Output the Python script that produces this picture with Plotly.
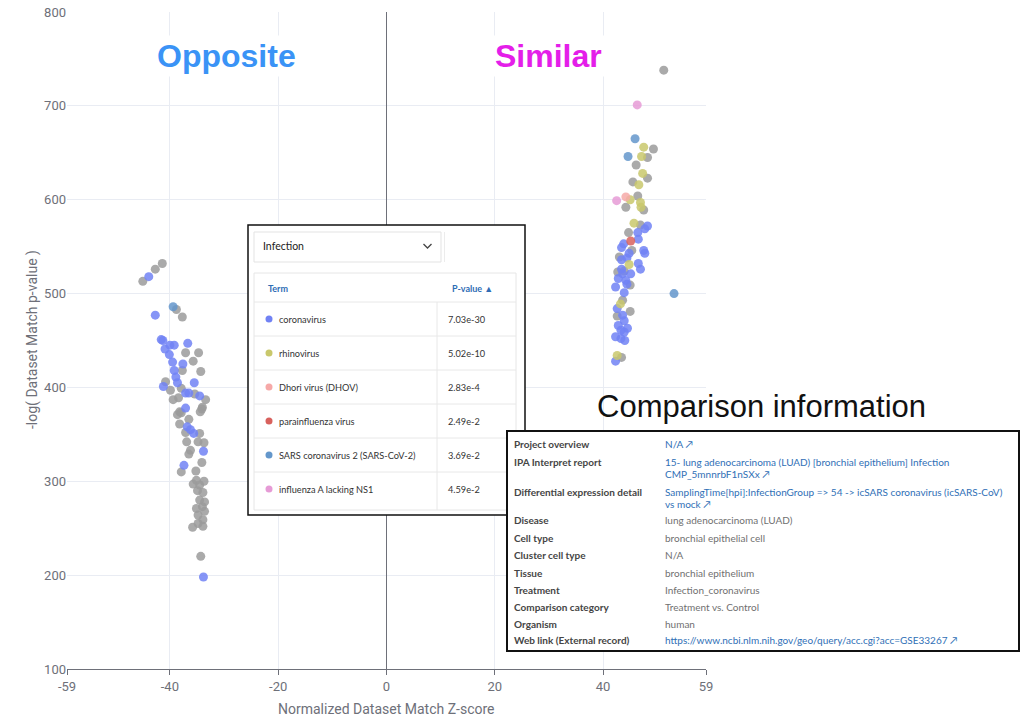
import plotly.graph_objects as go

# ---------------- data ----------------
x_ticks = [-59, -40, -20, 0, 20, 40, 59]
y_ticks = [100, 200, 300, 400, 500, 600, 700, 800]

unannotated_pts = [
    (-45.0, 513), (-42.7, 526), (-41.4, 532), (-38.8, 483), (-37.7, 475), (-37.1, 437), (-34.7, 437),
    (-35.7, 428), (-37.7, 418), (-34.3, 417), (-40.8, 406), (-37.9, 399), (-39.9, 397), (-35.4, 393),
    (-33.4, 387), (-39.4, 387), (-38.4, 389), (-34.0, 379), (-38.2, 374), (-34.1, 377), (-34.4, 374),
    (-38.6, 371), (-37.9, 373), (-36.5, 366), (-38.2, 361), (-37.1, 352), (-34.5, 351), (-36.9, 342),
    (-34.8, 342), (-33.7, 341), (-36.2, 333), (-36.5, 329), (-34.1, 320), (-37.9, 310), (-35.2, 311),
    (-35.1, 301), (-33.7, 300), (-35.7, 297), (-34.5, 296), (-34.9, 290), (-33.9, 288), (-34.5, 280),
    (-33.6, 278), (-34.0, 273), (-35.1, 271), (-33.6, 268), (-34.8, 264), (-33.9, 259), (-34.8, 255),
    (-35.8, 251), (-33.9, 252), (-34.3, 220),
    (51.2, 738), (49.3, 654), (48.2, 645), (46.1, 637), (48.2, 623), (45.5, 619), (46.4, 604),
    (44.2, 592), (47.5, 589), (46.9, 573), (44.7, 565), (45.3, 546), (43.0, 539), (42.7, 523),
    (43.9, 524), (45.0, 509), (43.6, 493), (45.0, 481), (42.6, 476), (43.4, 432),
]
coronavirus_pts = [
    (-43.9, 518), (-42.7, 477), (-41.6, 451), (-41.3, 450), (-40.9, 441), (-40.0, 445), (-39.2, 445),
    (-36.7, 447), (-40.1, 435), (-39.5, 427), (-37.6, 425), (-39.2, 418), (-38.9, 411), (-38.6, 405),
    (-41.2, 401), (-35.5, 405), (-37.1, 394), (-36.5, 394), (-34.5, 391), (-37.1, 378), (-36.8, 358),
    (-36.2, 355), (-35.6, 351), (-33.8, 332), (-37.4, 317), (-33.8, 198),
    (48.2, 572), (47.7, 569), (46.4, 565), (46.5, 558), (43.8, 553), (43.4, 549), (47.5, 546),
    (47.7, 543), (44.8, 543), (44.4, 538), (46.5, 532), (46.9, 526), (43.4, 526), (45.1, 521),
    (43.4, 536), (43.6, 521), (42.8, 516), (44.2, 514), (42.3, 507), (44.4, 510), (43.9, 501),
    (42.6, 484), (43.6, 477), (43.9, 471), (42.8, 466), (44.5, 463), (43.3, 461), (43.9, 459),
    (42.3, 454), (43.3, 452), (44.0, 450), (42.3, 428),
]
rhinovirus_pts = [
    (47.5, 656), (47.1, 646), (47.3, 628), (46.6, 616), (45.0, 600), (46.9, 597), (47.0, 592),
    (45.7, 575), (44.8, 531), (43.2, 489), (42.6, 434),
]
dhori_pts = [(44.2, 603)]
parainfluenza_pts = [(45.1, 556)]
sars2_pts = [(-39.4, 486), (45.9, 665), (44.6, 646), (53.1, 500)]
influenza_pts = [(46.3, 701), (42.5, 599)]

terms = ["coronavirus", "rhinovirus", "Dhori virus (DHOV)", "parainfluenza virus",
         "SARS coronavirus 2 (SARS-CoV-2)", "influenza A lacking NS1"]
pvalues = ["7.03e-30", "5.02e-10", "2.83e-4", "2.49e-2", "3.69e-2", "4.59e-2"]
term_colors = ["#7182f4", "#c9c86c", "#f6a9a8", "#d8615d", "#6497cb", "#e69bd6"]

info_labels = ["Project overview", "IPA Interpret report", "Differential expression detail",
               "Disease", "Cell type", "Cluster cell type", "Tissue", "Treatment",
               "Comparison category", "Organism", "Web link (External record)"]
info_values = [
    ["N/A \u2197"],
    ["15- lung adenocarcinoma (LUAD) [bronchial epithelium] Infection", "CMP_5mnnrbF1nSXx \u2197"],
    ["SamplingTime[hpi]:InfectionGroup => 54 -> icSARS coronavirus (icSARS-CoV)", "vs mock \u2197"],
    ["lung adenocarcinoma (LUAD)"],
    ["bronchial epithelial cell"],
    ["N/A"],
    ["bronchial epithelium"],
    ["Infection_coronavirus"],
    ["Treatment vs. Control"],
    ["human"],
    ["https://www.ncbi.nlm.nih.gov/geo/query/acc.cgi?acc=GSE33267 \u2197"],
]
info_is_link = [True, True, True, False, False, False, False, False, False, False, True]

# ---------------- layout geometry (pixels) ----------------
W, H = 1032, 721
L, R, T, B = 67, 706, 12, 669


def px(X):
    return (X - L) / (R - L)


def py(Y):
    return (B - Y) / (B - T)


def note(X, Y, text, size, color, family="Lato, sans-serif", xanchor="left", **kw):
    d = dict(x=px(X), y=py(Y), xref="paper", yref="paper", text=text, showarrow=False,
             xanchor=xanchor, yanchor="middle",
             font=dict(family=family, size=size, color=color))
    d.update(kw)
    return d


fig = go.Figure()

series = [
    ("unannotated", unannotated_pts, "#9b9b9b"),
    (terms[0], coronavirus_pts, term_colors[0]),
    (terms[1], rhinovirus_pts, term_colors[1]),
    (terms[2], dhori_pts, term_colors[2]),
    (terms[3], parainfluenza_pts, term_colors[3]),
    (terms[4], sars2_pts, term_colors[4]),
    (terms[5], influenza_pts, term_colors[5]),
]
for name, pts, col in series:
    fig.add_trace(go.Scatter(
        x=[p[0] for p in pts], y=[p[1] for p in pts], mode="markers", name=name,
        marker=dict(size=9, color=col, opacity=0.85, line=dict(width=0)),
        showlegend=False))

axis_font = dict(family="Roboto, Liberation Sans, sans-serif", size=13, color="#6e7079")
fig.update_xaxes(range=[-59, 59], tickvals=x_ticks, ticktext=[str(v) for v in x_ticks],
                 showgrid=True, gridcolor="#e9ecf3", gridwidth=1,
                 zeroline=True, zerolinecolor="#6e7079", zerolinewidth=1,
                 showline=True, linecolor="#6e7079", linewidth=1,
                 ticks="outside", ticklen=5, tickcolor="#6e7079",
                 tickfont=axis_font, fixedrange=True, automargin=False)
fig.update_yaxes(range=[100, 800], tickvals=y_ticks, showgrid=True, gridcolor="#e9ecf3",
                 zeroline=False, showline=False, ticks="", tickfont=axis_font, fixedrange=True,
                 automargin=False)

shapes = []
annotations = []

# axis titles
annotations.append(note(32, 340, "-log( Dataset Match p-value )", 14, "#6e7079",
                        family="Roboto, sans-serif", xanchor="center", textangle=-90))
annotations.append(note(386, 709, "Normalized Dataset Match Z-score", 14, "#6e7079",
                        family="Roboto, sans-serif", xanchor="center"))

# big labels
annotations.append(note(226, 56, "<b>Opposite</b>", 32, "#3a93f6",
                        family="Liberation Sans, Arial, sans-serif", xanchor="center",
                        bgcolor="white", borderpad=2))
annotations.append(note(548, 56, "<b>Similar</b>", 32, "#e41ee9",
                        family="Liberation Sans, Arial, sans-serif", xanchor="center",
                        bgcolor="white", borderpad=2))

# ---------- infection table overlay ----------
shapes.append(dict(type="rect", xref="paper", yref="paper", x0=px(248), x1=px(525), y0=py(515), y1=py(225),
                   fillcolor="white", line=dict(color="#111111", width=1.5), layer="above"))
# dropdown
shapes.append(dict(type="rect", xref="paper", yref="paper", x0=px(254), x1=px(441), y0=py(262), y1=py(232),
                   fillcolor="white", line=dict(color="#e3e3e3", width=1), layer="above"))
shapes.append(dict(type="line", xref="paper", yref="paper", x0=px(444.5), x1=px(444.5), y0=py(262), y1=py(232),
                   line=dict(color="#ececec", width=1), layer="above"))
shapes.append(dict(type="path", xref="paper", yref="paper",
                   path=f"M {px(423.5)} {py(244)} L {px(427.5)} {py(248)} L {px(431.5)} {py(244)}",
                   line=dict(color="#444444", width=1.3), layer="above"))
annotations.append(note(261, 246, "Infection", 10.5, "#222222"))
# table card
shapes.append(dict(type="rect", xref="paper", yref="paper", x0=px(254), x1=px(516), y0=py(510), y1=py(273),
                   fillcolor="white", line=dict(color="#e6e6e6", width=1), layer="above"))
annotations.append(note(266, 288, "<b>Term</b>", 9, "#2f6db5"))
annotations.append(note(450, 288, "<b>P-value \u25b2</b>", 9, "#2f6db5"))
row_top = 302
row_h = 34
for i, (t, p, c) in enumerate(zip(terms, pvalues, term_colors)):
    y_line = row_top + i * row_h
    shapes.append(dict(type="line", xref="paper", yref="paper", x0=px(254), x1=px(516), y0=py(y_line), y1=py(y_line),
                       line=dict(color="#e8e8e8", width=1), layer="above"))
    yc = y_line + row_h / 2
    shapes.append(dict(type="circle", xref="paper", yref="paper", x0=px(265.5), x1=px(272.5),
                       y0=py(yc + 3.5), y1=py(yc - 3.5), fillcolor=c, line=dict(width=0), layer="above"))
    annotations.append(note(277, yc, t, 9.2, "#333333"))
    annotations.append(note(446, yc, p, 9.2, "#333333"))
shapes.append(dict(type="line", xref="paper", yref="paper", x0=px(437), x1=px(437), y0=py(302), y1=py(510),
                   line=dict(color="#e8e8e8", width=1), layer="above"))

# ---------- comparison information overlay ----------
annotations.append(note(595, 406, "Comparison information", 31, "#111111",
                        family="Liberation Sans, Arial, sans-serif"))
shapes.append(dict(type="rect", xref="paper", yref="paper", x0=px(507), x1=px(1019), y0=py(651), y1=py(431),
                   fillcolor="white", line=dict(color="#111111", width=2), layer="above"))
label_y = [444, 461.5, 492, 520, 537.5, 555, 572.5, 589.5, 606.5, 623.5, 640]
for lab, vals, link, yy in zip(info_labels, info_values, info_is_link, label_y):
    annotations.append(note(512, yy, f"<b>{lab}</b>", 10, "#454545"))
    for k, v in enumerate(vals):
        annotations.append(note(663, yy + 12 * k, v, 10, "#2f6fb6" if link else "#707070"))

fig.update_layout(width=W, height=H, margin=dict(l=L, r=W - R, t=T, b=H - B, autoexpand=False),
                  plot_bgcolor="white", paper_bgcolor="white",
                  shapes=shapes, annotations=annotations, showlegend=False)

fig.write_html("out.html", config={"displayModeBar": False},
               post_script="document.body.style.margin='0';")
